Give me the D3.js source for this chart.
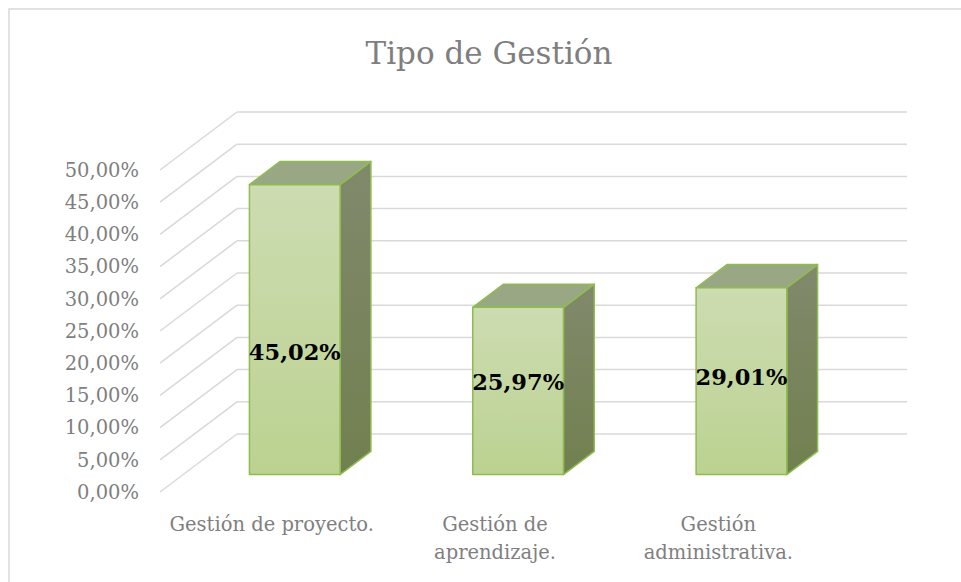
<!DOCTYPE html>
<html>
<head>
<meta charset="utf-8">
<script src="https://cdn.jsdelivr.net/npm/d3@7"></script>
<style>
  body { margin: 0; background: #fff; }
  svg { display: block; }
</style>
</head>
<body>
<svg id="chart" width="961" height="582"></svg>
<script>
// data
var categories = [["Gestión de proyecto."], ["Gestión de", "aprendizaje."], ["Gestión", "administrativa."]];
var values = [0.4502, 0.2597, 0.2901];
var valueLabels = ["45,02%", "25,97%", "29,01%"];
var ticks = [0, 0.05, 0.10, 0.15, 0.20, 0.25, 0.30, 0.35, 0.40, 0.45, 0.50];
var title = "Tipo de Gestión";

var svg = d3.select('#chart');
var font = 'DejaVu Serif';

// back wall of the plot, the front is shifted by depth
var depthX = -77, depthY = 58;
var x = d3.scaleBand().domain(d3.range(values.length)).range([237, 907]).padding(0);
var y = d3.scaleLinear().domain([0, 0.5]).range([434, 112]);

// project a point at depth d (0 = back wall, 1 = front)
function p(px, py, d) { return [px + depthX * d, py + depthY * d]; }
function poly(pts) { return pts.map(q => q.join(',')).join(' '); }

var fmt = v => d3.format('.2f')(v * 100).replace('.', ',') + '%';

// chart border
svg.append('rect')
  .attr('x', 9).attr('y', 9).attr('width', 1000).attr('height', 1000)
  .attr('fill', 'none').attr('stroke', '#d9d9d9').attr('stroke-width', 1.5);

svg.append('text')
  .attr('x', 489).attr('y', 64)
  .attr('text-anchor', 'middle')
  .attr('font-family', font)
  .attr('font-size', 31)
  .attr('fill', '#7f7f7f')
  .text(title);

// gridlines: back wall + side wall
var grid = svg.append('g').attr('stroke', '#d9d9d9').attr('stroke-width', 1.5).attr('fill', 'none');
grid.selectAll('line.back').data(ticks).enter().append('line')
  .attr('x1', x.range()[0]).attr('x2', x.range()[1])
  .attr('y1', d => y(d)).attr('y2', d => y(d));
grid.selectAll('line.side').data(ticks).enter().append('line')
  .attr('x1', x.range()[0]).attr('y1', d => y(d))
  .attr('x2', x.range()[0] + depthX).attr('y2', d => y(d) + depthY);

// y axis labels on the front plane
svg.append('g').selectAll('text').data(ticks).enter().append('text')
  .attr('x', 139).attr('y', d => y(d) + depthY)
  .attr('dy', '0.35em')
  .attr('text-anchor', 'end')
  .attr('font-family', font)
  .attr('font-size', 19.5)
  .attr('fill', '#7f7f7f')
  .text(fmt);

// gradients
var defs = svg.append('defs');
var gf = defs.append('linearGradient').attr('id', 'gFront').attr('x1', 0).attr('y1', 0).attr('x2', 0).attr('y2', 1);
gf.append('stop').attr('offset', 0).attr('stop-color', '#cddcb1');
gf.append('stop').attr('offset', 1).attr('stop-color', '#bbd291');
var gs = defs.append('linearGradient').attr('id', 'gSide').attr('x1', 0).attr('y1', 0).attr('x2', 0).attr('y2', 1);
gs.append('stop').attr('offset', 0).attr('stop-color', '#81896c');
gs.append('stop').attr('offset', 1).attr('stop-color', '#71804f');

// bars occupy the middle of the depth
var dBack = 0.3, dFront = 0.7, barFrac = 0.406;

var bars = svg.append('g').selectAll('g').data(values).enter().append('g');

bars.each(function(v, i) {
  var g = d3.select(this);
  var cx = x(i) + x.bandwidth() / 2;
  var half = x.bandwidth() * barFrac / 2;
  var x0 = cx - half, x1 = cx + half;
  var yb = y(0), yt = y(v);
  var fBL = p(x0, yb, dFront), fBR = p(x1, yb, dFront), fTL = p(x0, yt, dFront), fTR = p(x1, yt, dFront);
  var bBR = p(x1, yb, dBack), bTL = p(x0, yt, dBack), bTR = p(x1, yt, dBack);
  var st = '#8fbc4f';
  g.append('polygon').attr('points', poly([fTR, bTR, bBR, fBR]))
    .attr('fill', 'url(#gSide)').attr('stroke', st).attr('stroke-width', 1.5).attr('stroke-linejoin', 'round');
  g.append('polygon').attr('points', poly([fTL, bTL, bTR, fTR]))
    .attr('fill', '#9aa785').attr('stroke', st).attr('stroke-width', 1.5).attr('stroke-linejoin', 'round');
  g.append('polygon').attr('points', poly([fTL, fTR, fBR, fBL]))
    .attr('fill', 'url(#gFront)').attr('stroke', st).attr('stroke-width', 1.5).attr('stroke-linejoin', 'round');

  // value label, between the face middle and the 15% level
  var faceMid = (fTL[1] + fBL[1]) / 2;
  var anchor = p(cx, y(0.15), dFront)[1];
  g.append('text')
    .attr('x', (fTL[0] + fTR[0]) / 2)
    .attr('y', (faceMid + anchor) / 2 - 2)
    .attr('dy', '0.35em')
    .attr('text-anchor', 'middle')
    .attr('font-family', font)
    .attr('font-weight', 'bold')
    .attr('font-size', 22.5)
    .attr('fill', '#000')
    .text(valueLabels[i]);
});

// category labels, centred under the front plane
var cat = svg.append('g').selectAll('text').data(categories).enter().append('text')
  .attr('x', (d, i) => x(i) + x.bandwidth() / 2 + depthX)
  .attr('y', 531)
  .attr('text-anchor', 'middle')
  .attr('font-family', font)
  .attr('font-size', 19.5)
  .attr('fill', '#7f7f7f');
cat.selectAll('tspan').data(d => d).enter().append('tspan')
  .attr('x', function() { return d3.select(this.parentNode).attr('x'); })
  .attr('dy', (d, j) => j ? 28 : 0)
  .text(d => d);
</script>
</body>
</html>
